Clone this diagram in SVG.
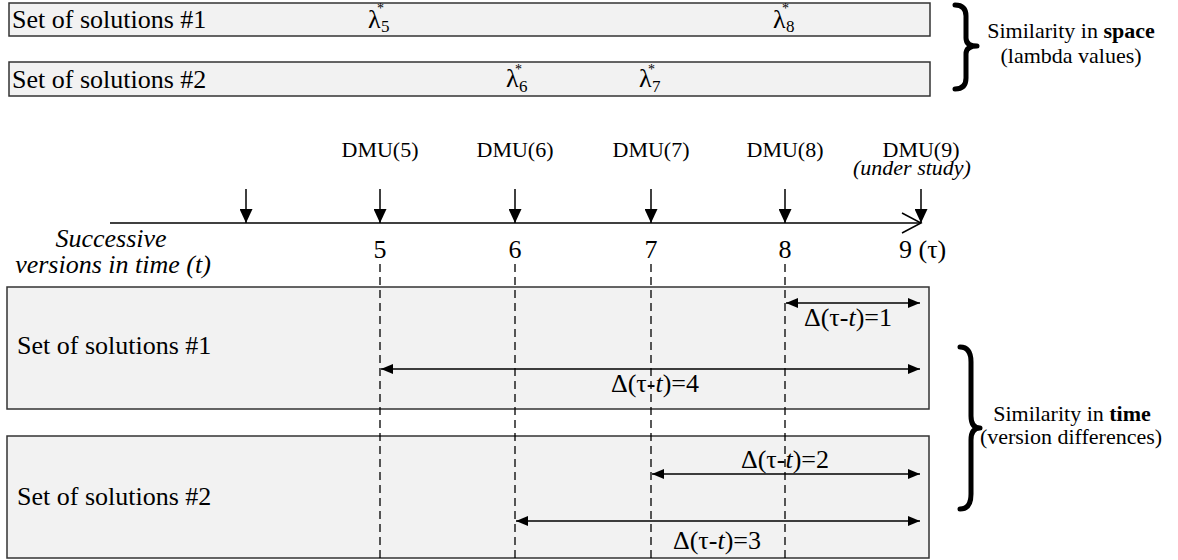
<svg xmlns="http://www.w3.org/2000/svg" width="1178" height="560" viewBox="0 0 1178 560">
<defs>
<style>
text{font-family:"Liberation Serif","Times New Roman",serif;fill:#000}
.box{fill:#f2f2f2;stroke:#333;stroke-width:1.5}
.t26{font-size:26px}
.t22{font-size:22px}
.it{font-style:italic}
.b{font-weight:bold}
.ln{stroke:#000;stroke-width:1.5;fill:none}
.dash{stroke:#000;stroke-width:1.3;stroke-dasharray:8 5;fill:none}
.brace{stroke:#000;stroke-width:5;fill:none;stroke-linecap:round;stroke-linejoin:round}
.star{font-size:14px}
.sub{font-size:17px}
</style>
<marker id="ah" viewBox="0 0 12 10" refX="12" refY="5" markerWidth="12" markerHeight="10" markerUnits="userSpaceOnUse" orient="auto-start-reverse">
<path d="M0,0 L12,5 L0,10 Z" fill="#000"/>
</marker>
<marker id="down" viewBox="0 0 14 13" refX="14" refY="6.5" markerWidth="14" markerHeight="13" markerUnits="userSpaceOnUse" orient="auto">
<path d="M0,0 L14,6.5 L0,13 Z" fill="#000"/>
</marker>
</defs>

<g id="space-box-1">
<rect class="box" x="9" y="3" width="921" height="33"/>
<text class="t26" x="12" y="28">Set of solutions #1</text>
<text class="t26" x="368" y="28">λ<tspan class="star" x="377" y="13">*</tspan><tspan class="sub" x="381" y="32">5</tspan></text>
<text class="t26" x="773" y="28">λ<tspan class="star" x="782" y="13">*</tspan><tspan class="sub" x="786" y="32">8</tspan></text>
</g>
<g id="space-box-2">
<rect class="box" x="9" y="62" width="921" height="34"/>
<text class="t26" x="12" y="88">Set of solutions #2</text>
<text class="t26" x="506" y="87">λ<tspan class="star" x="515" y="74">*</tspan><tspan class="sub" x="519" y="92">6</tspan></text>
<text class="t26" x="639" y="87">λ<tspan class="star" x="648" y="74">*</tspan><tspan class="sub" x="652" y="92">7</tspan></text>
</g>
<g id="space-brace">
<path class="brace" d="M955,5 Q966,5 966,16 L966,38 Q966,46 977,46 Q966,46 966,54 L966,78 Q966,89 955,89"/>
<text class="t22" x="1071" y="38" text-anchor="middle">Similarity in <tspan class="b">space</tspan></text>
<text class="t22" x="1071" y="63" text-anchor="middle">(lambda values)</text>
</g>

<g id="timeline">
<line class="ln" x1="110" y1="223" x2="921" y2="223"/>
<polyline class="ln" points="902,213 921,223 902,233"/>
<text class="t26 it" x="111" y="247" text-anchor="middle">Successive</text>
<text class="t26 it" x="113" y="273" text-anchor="middle">versions in time (t)</text>
<text class="t26" x="380" y="258" text-anchor="middle">5</text>
<text class="t26" x="515" y="258" text-anchor="middle">6</text>
<text class="t26" x="651" y="258" text-anchor="middle">7</text>
<text class="t26" x="785" y="258" text-anchor="middle">8</text>
<text class="t26" x="899" y="258">9 (τ)</text>
</g>
<g id="dmu-labels">
<text class="t22" x="380" y="157" text-anchor="middle">DMU(5)</text>
<text class="t22" x="515" y="157" text-anchor="middle">DMU(6)</text>
<text class="t22" x="651" y="157" text-anchor="middle">DMU(7)</text>
<text class="t22" x="785" y="157" text-anchor="middle">DMU(8)</text>
<text class="t22" x="921" y="157" text-anchor="middle">DMU(9)</text>
<text class="t22 it" x="912" y="175" text-anchor="middle">(under study)</text>
</g>

<g id="time-box-1">
<rect class="box" x="7" y="287" width="922" height="122"/>
<text class="t26" x="17" y="354">Set of solutions #1</text>
</g>
<g id="time-box-2">
<rect class="box" x="7" y="436" width="922" height="122"/>
<text class="t26" x="17" y="505">Set of solutions #2</text>
</g>

<g id="connectors">
<line class="ln" x1="246" y1="189" x2="246" y2="223" marker-end="url(#down)"/>
<line class="ln" x1="380" y1="189" x2="380" y2="223" marker-end="url(#down)"/>
<line class="ln" x1="515" y1="189" x2="515" y2="223" marker-end="url(#down)"/>
<line class="ln" x1="651" y1="189" x2="651" y2="223" marker-end="url(#down)"/>
<line class="ln" x1="785" y1="189" x2="785" y2="223" marker-end="url(#down)"/>
<line class="ln" x1="921" y1="189" x2="921" y2="223" marker-end="url(#down)"/>
<line class="dash" x1="380" y1="264" x2="380" y2="560"/>
<line class="dash" x1="515" y1="264" x2="515" y2="560"/>
<line class="dash" x1="651" y1="264" x2="651" y2="560"/>
<line class="dash" x1="785" y1="264" x2="785" y2="560"/>
<line class="ln" x1="786" y1="303" x2="920" y2="303" marker-start="url(#ah)" marker-end="url(#ah)"/>
<line class="ln" x1="381" y1="369" x2="920" y2="369" marker-start="url(#ah)" marker-end="url(#ah)"/>
<line class="ln" x1="652" y1="474" x2="920" y2="474" marker-start="url(#ah)" marker-end="url(#ah)"/>
<line class="ln" x1="516" y1="521" x2="920" y2="521" marker-start="url(#ah)" marker-end="url(#ah)"/>
</g>
<g id="delta-labels">
<text class="t26" x="848" y="326" text-anchor="middle">Δ(τ-<tspan class="it">t</tspan>)=1</text>
<text class="t26" x="655" y="392" text-anchor="middle">Δ(τ-<tspan class="it">t</tspan>)=4</text>
<text class="t26" x="785" y="468" text-anchor="middle">Δ(τ-<tspan class="it">t</tspan>)=2</text>
<text class="t26" x="717" y="549" text-anchor="middle">Δ(τ-<tspan class="it">t</tspan>)=3</text>
</g>

<g id="time-brace">
<path class="brace" d="M960,347 Q971,347 971,362 L971,416 Q971,428 980,428 Q971,428 971,440 L971,494 Q971,509 960,509"/>
<text class="t22" x="1072" y="421" text-anchor="middle">Similarity in <tspan class="b">time</tspan></text>
<text class="t22" x="1071" y="444" text-anchor="middle">(version differences)</text>
</g>
</svg>
